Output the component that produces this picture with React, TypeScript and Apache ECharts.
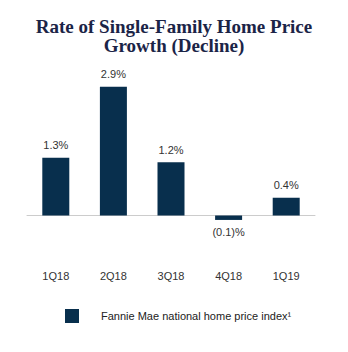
import React, { useEffect, useRef } from "react";
import * as echarts from "echarts";

const categories = ["1Q18", "2Q18", "3Q18", "4Q18", "1Q19"];
const values = [1.3, 2.9, 1.2, -0.1, 0.4];
const seriesName = "Fannie Mae national home price index\u00B9";
const titleText = "Rate of Single-Family Home Price\nGrowth (Decline)";

const fmt = (v: number) => (v < 0 ? `(${Math.abs(v).toFixed(1)})%` : `${v.toFixed(1)}%`);

export default function App() {
  const ref = useRef<HTMLDivElement>(null);
  useEffect(() => {
    if (!ref.current) return;
    const chart = echarts.init(ref.current, null, { renderer: "svg" });
    chart.setOption({
      animation: false,
      backgroundColor: "#ffffff",
      title: {
        text: titleText,
        left: "center",
        top: 12,
        textStyle: {
          fontFamily: "Liberation Serif",
          fontWeight: "bold",
          fontSize: 19,
          lineHeight: 19,
          color: "#1b2447",
        },
      },
      legend: {
        data: [seriesName],
        left: 60,
        top: 304,
        itemWidth: 14,
        itemHeight: 14,
        icon: "rect",
        textStyle: {
          fontFamily: "Liberation Sans",
          fontSize: 11,
          color: "#222222",
          padding: [0, 0, 0, 17],
        },
      },
      grid: { left: 27, right: 33, top: 82.3, height: 155.4 },
      xAxis: {
        type: "category",
        data: categories,
        axisLine: { onZero: true, lineStyle: { color: "#cccccc", width: 1 } },
        axisTick: { show: false },
        axisLabel: {
          margin: 33,
          fontFamily: "Liberation Sans",
          fontSize: 11,
          color: "#333333",
        },
      },
      yAxis: {
        type: "value",
        min: -0.5,
        max: 3.0,
        show: false,
        splitLine: { show: false },
      },
      series: [
        {
          name: seriesName,
          type: "bar",
          data: values.map((v) => ({
            value: v,
            label: { position: v < 0 ? "bottom" : "top" },
          })),
          barWidth: 27,
          itemStyle: { color: "#082f4d" },
          label: {
            show: true,
            distance: 7,
            fontFamily: "Liberation Sans",
            fontSize: 11,
            color: "#333333",
            formatter: (p: any) => fmt(p.value),
          },
        },
      ],
    });
    return () => chart.dispose();
  }, []);
  return (
    <div
      ref={ref}
      style={{ position: "fixed", left: 0, top: 0, width: 348, height: 352 }}
    />
  );
}
